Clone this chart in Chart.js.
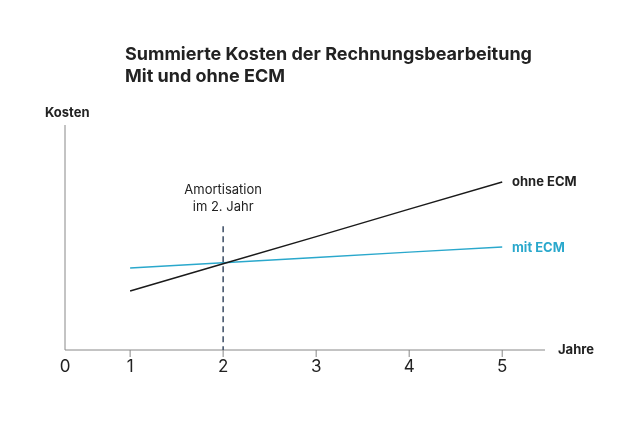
<!DOCTYPE html>
<html><head><meta charset="utf-8">
<script src="https://cdn.jsdelivr.net/npm/chart.js@4/dist/chart.umd.min.js"></script>
<style>body{margin:0;background:#fff}#wrap{width:638px;height:425px}</style>
</head><body><div id="wrap"><canvas id="c"></canvas></div>
<script>
const years = [1, 2, 3, 4, 5]
const ohneEcm = [26.2, 38.3, 50.4, 62.6, 74.7]
const mitEcm = [36.4, 38.8, 41.1, 43.5, 45.8]
const tickLabels = ['0', '1', '2', '3', '4', '5']
const tickValues = [0.3, 1, 2, 3, 4, 5]
const amortJahr = 2

const font = '"Inter", "Noto Sans", sans-serif'

// axes, ticks and annotations drawn on top of the library's scales
const deco = {
  id: 'deco',
  afterDatasetsDraw(chart) {
    const ctx = chart.ctx, x = chart.scales.x, y = chart.scales.y
    const x0 = x.getPixelForValue(0.3), y0 = y.getPixelForValue(0)
    ctx.save()
    ctx.strokeStyle = '#888'; ctx.lineWidth = 1
    ctx.beginPath()
    ctx.moveTo(x0, y.getPixelForValue(100)); ctx.lineTo(x0, y0)
    ctx.lineTo(x.right, y0)
    tickValues.slice(1).forEach(v => {
      const px = x.getPixelForValue(v)
      ctx.moveTo(px, y0); ctx.lineTo(px, y0 + 7)
    })
    ctx.stroke()
    // dashed amortisation line
    const ax = x.getPixelForValue(amortJahr)
    ctx.strokeStyle = '#3b4c63'; ctx.lineWidth = 1.5; ctx.setLineDash([6, 4])
    ctx.beginPath(); ctx.moveTo(ax, y.getPixelForValue(55)); ctx.lineTo(ax, y0); ctx.stroke()
    ctx.setLineDash([])
    ctx.fillStyle = '#222'; ctx.textAlign = 'center'; ctx.textBaseline = 'middle'
    ctx.font = '17px ' + font
    tickValues.forEach((v, i) => ctx.fillText(tickLabels[i], x.getPixelForValue(v), y0 + 17))
    ctx.font = '13px ' + font
    ctx.fillText('Amortisation', ax, 190)
    ctx.fillText('im 2. Jahr', ax, 207)
    ctx.textAlign = 'left'
    ctx.font = 'bold 18px ' + font
    ctx.fillText('Summierte Kosten der Rechnungsbearbeitung', 125, 55)
    ctx.fillText('Mit und ohne ECM', 125, 77)
    ctx.font = 'bold 13px ' + font
    ctx.fillText('Kosten', 45, 113)
    ctx.fillText('Jahre', 558, 350)
    ctx.fillText('ohne ECM', 512, 182)
    ctx.fillStyle = '#2aa8cc'
    ctx.fillText('mit ECM', 512, 248)
    ctx.restore()
  }
}

new Chart(document.getElementById('c'), {
  type: 'line',
  data: {
    datasets: [
      { label: 'ohne ECM', data: years.map((t, i) => ({ x: t, y: ohneEcm[i] })), borderColor: '#1a1a1a', borderWidth: 1.5, pointRadius: 0 },
      { label: 'mit ECM', data: years.map((t, i) => ({ x: t, y: mitEcm[i] })), borderColor: '#2aa8cc', borderWidth: 1.5, pointRadius: 0 },
    ]
  },
  options: {
    responsive: true, maintainAspectRatio: false, animation: false,
    layout: { padding: { left: 65, right: 93, top: 125, bottom: 75 } },
    plugins: { legend: { display: false }, tooltip: { enabled: false } },
    scales: {
      x: { type: 'linear', min: 0.3, max: 5.46, display: false },
      y: { min: 0, max: 100, display: false },
    }
  },
  plugins: [deco],
})
</script></body></html>
